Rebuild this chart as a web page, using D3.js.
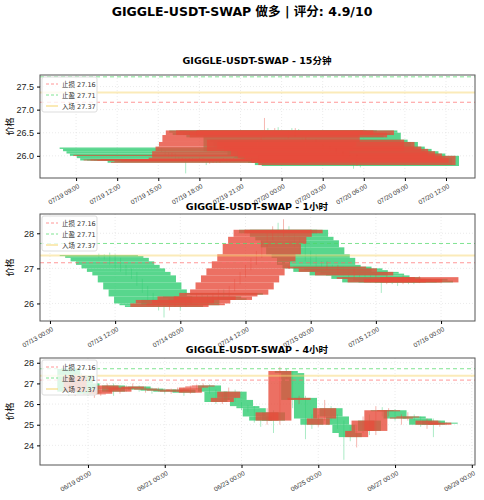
<!DOCTYPE html>
<html><head><meta charset="utf-8">
<script src="https://cdn.jsdelivr.net/npm/d3@7"></script>
<style>body{margin:0;background:#fff}svg{font-family:"DejaVu Sans","Noto Sans CJK SC",sans-serif}</style>
</head><body><svg id="c" width="484" height="500"></svg>
<script>
const mainTitle = "GIGGLE-USDT-SWAP 做多 | 评分: 4.9/10";
const levels = [{name:"止损", v:27.16, c:"#ff6b6b", dash:"4,3"},{name:"止盈", v:27.71, c:"#4cd964", dash:"4,3"},{name:"入场", v:27.37, c:"#f7d774", dash:null}];

// 15m: start 2025-07-19 15:00, step 15 min
const m15Open = [26.18,26.15,26.1,26.05,26.0,26.02,25.95,25.9,25.92,25.9,25.92,25.9,25.91,25.93,25.9,25.85,25.87,25.9,25.88,25.9,25.92,25.9,25.91,25.93,25.92,25.9,25.93,25.96,26.1,26.2,26.3,26.45,26.55,26.5,26.45,26.55,26.5,26.45,26.4,26.5,26.45,26.55,26.5,26.1,26.35,26.3,26.15,26.3,26.1,26.2,26.0,26.15,25.95,26.1,25.9,26.05,25.85,25.95,25.8,26.0];
const m15Close= [26.15,26.1,26.05,26.0,26.02,25.95,25.9,25.92,25.9,25.92,25.9,25.91,25.93,25.9,25.85,25.87,25.9,25.88,25.9,25.92,25.9,25.91,25.93,25.92,25.9,25.93,25.96,26.1,26.2,26.3,26.45,26.55,26.5,26.45,26.55,26.5,26.45,26.4,26.5,26.45,26.55,26.5,26.1,26.35,26.3,26.15,26.3,26.1,26.2,26.0,26.15,25.95,26.1,25.9,26.05,25.85,25.95,25.8,26.0,25.78];
const m15High = [26.2,26.17,26.12,26.08,26.07,26.05,25.98,25.96,25.95,25.95,25.95,25.94,25.96,25.95,25.93,25.9,25.93,25.92,25.93,25.95,25.94,25.94,25.96,25.96,25.95,25.96,26.0,26.14,26.24,26.34,26.48,26.82,26.6,26.52,26.6,26.62,26.55,26.5,26.55,26.6,26.6,26.58,26.55,26.4,26.4,26.35,26.35,26.35,26.25,26.25,26.2,26.18,26.15,26.15,26.1,26.08,26.0,25.98,26.03,26.02];
const m15Low  = [26.12,26.08,26.02,25.97,25.98,25.92,25.87,25.88,25.62,25.87,25.87,25.88,25.89,25.86,25.8,25.83,25.85,25.85,25.85,25.87,25.86,25.87,25.88,25.89,25.87,25.88,25.9,25.93,26.08,26.18,26.25,26.4,26.45,26.4,26.42,26.45,26.4,26.35,26.38,26.4,26.42,26.45,26.05,26.05,26.25,26.1,26.12,26.05,26.05,25.95,25.95,25.9,25.92,25.85,25.87,25.8,25.82,25.72,25.78,25.75];

// 1h: start 2025-07-13 09:00
const h1Open = [27.38,27.35,27.3,27.2,27.1,27.0,26.9,26.8,26.6,26.4,26.2,26.0,25.95,25.9,26.0,26.1,25.95,26.0,26.1,26.2,26.15,26.1,26.2,26.3,26.25,26.4,26.6,26.8,27.0,27.2,27.4,27.7,27.9,28.1,28.0,28.1,27.9,27.8,27.6,27.4,27.3,27.1,27.0,27.05,26.9,27.0,26.95,26.8,26.9,26.85,26.8,26.7,26.75,26.6,26.7,26.65,26.6,26.7,26.65,26.6];
const h1Close= [27.35,27.3,27.2,27.1,27.0,26.9,26.8,26.6,26.4,26.2,26.0,25.95,25.9,26.0,26.1,25.95,26.0,26.1,26.2,26.15,26.1,26.2,26.3,26.25,26.4,26.6,26.8,27.0,27.2,27.4,27.7,27.9,28.1,28.0,28.1,27.9,27.8,27.6,27.4,27.3,27.1,27.0,27.05,26.9,27.0,26.95,26.8,26.9,26.85,26.8,26.7,26.75,26.6,26.7,26.65,26.6,26.7,26.65,26.6,26.75];
const h1High = [27.42,27.4,27.45,27.4,27.3,27.1,27.0,26.9,26.7,26.5,26.3,26.1,26.0,26.1,26.2,26.15,26.1,26.2,26.3,26.3,26.25,26.3,26.4,26.4,26.5,26.7,26.9,27.1,27.3,27.5,27.8,28.0,28.2,28.3,28.4,28.2,28.0,27.9,27.7,27.5,27.4,27.2,27.2,27.1,27.1,27.05,27.0,27.0,26.95,26.9,26.85,26.85,26.75,26.8,26.75,26.75,26.8,26.75,26.7,26.78];
const h1Low  = [27.3,27.25,27.1,27.0,26.9,26.8,26.7,26.5,26.3,26.1,25.9,25.8,25.6,25.8,25.9,25.8,25.9,26.0,26.1,26.05,26.0,26.05,26.15,26.15,26.2,26.35,26.55,26.75,26.95,27.1,27.3,27.6,27.8,27.8,27.9,27.7,27.6,27.4,27.2,27.1,26.9,26.9,26.95,26.8,26.85,26.8,26.7,26.7,26.65,26.7,26.6,26.6,26.3,26.55,26.55,26.5,26.55,26.55,26.55,26.58];

// 4h: start 2025-06-18 12:00
const h4Open = [27.7,26.6,27.4,27.0,26.5,26.5,26.7,26.9,26.6,26.8,26.75,26.85,26.7,26.75,26.65,26.7,26.6,26.65,26.7,26.55,26.8,26.85,26.9,26.6,26.1,26.3,26.6,26.2,25.9,25.8,25.4,25.2,25.6,25.2,27.6,27.5,26.2,26.3,25.3,25.0,25.3,25.8,25.4,25.0,24.6,24.4,24.7,25.2,24.7,25.7,25.65,25.7,25.3,25.35,25.4,25.3,25.0,25.2,25.0,25.1];
const h4Close= [26.6,27.4,27.0,26.5,26.5,26.7,26.9,26.6,26.8,26.75,26.85,26.7,26.75,26.65,26.7,26.6,26.65,26.7,26.55,26.8,26.85,26.9,26.6,26.1,26.3,26.6,26.2,25.9,25.8,25.4,25.2,25.6,25.2,27.6,27.5,26.2,26.3,25.3,25.0,25.3,25.8,25.4,25.0,24.6,24.4,24.7,25.2,24.7,25.7,25.65,25.7,25.3,25.35,25.4,25.3,25.0,25.2,25.0,25.1,25.05];
const h4High = [27.8,27.5,27.5,27.1,26.7,26.8,27.0,27.0,26.9,26.9,27.0,26.9,26.85,26.8,26.8,26.75,26.75,26.8,26.8,26.9,26.95,27.0,26.95,26.7,26.5,26.8,26.7,26.1,25.95,25.9,25.5,25.8,25.7,27.8,27.7,27.6,26.4,26.4,25.5,25.5,26.2,25.9,25.5,25.2,24.9,25.0,25.4,25.5,25.9,25.85,25.8,25.75,25.5,25.6,25.5,25.4,25.3,25.3,25.2,25.12];
const h4Low  = [26.4,26.4,26.9,26.4,26.3,26.4,26.6,26.4,26.5,26.6,26.7,26.6,26.55,26.5,26.6,26.5,26.5,26.6,26.4,26.5,26.7,26.8,26.5,26.0,26.0,26.2,26.1,25.7,25.6,25.1,24.9,25.0,24.6,25.0,27.2,25.8,26.0,24.3,24.8,24.9,25.2,25.2,24.8,23.3,24.2,23.9,24.6,24.5,24.5,25.4,25.4,25.2,25.0,25.2,25.2,24.9,24.8,24.4,24.9,24.98];

const panels = [
 {title:"GIGGLE-USDT-SWAP - 15分钟", start:new Date(2025,6,19,15,0), stepMin:15, o:m15Open,c:m15Close,h:m15High,l:m15Low,
  top:75,bottom:178, y:[25.52,27.75], yt:[26.0,26.5,27.0,27.5], yfmt:d3.format(".1f"),
  x0:new Date(2025,6,19,6,22), x1:new Date(2025,6,20,14,7), ticks:d3.timeHour.every(3), tfmt:d3.timeFormat("%m/%d %H:%M"), ttl:64},
 {title:"GIGGLE-USDT-SWAP - 1小时", start:new Date(2025,6,13,9,0), stepMin:60, o:h1Open,c:h1Close,h:h1High,l:h1Low,
  top:214,bottom:321, y:[25.5,28.55], yt:[26,27,28], yfmt:d3.format("d"),
  x0:new Date(2025,6,12,22,10), x1:new Date(2025,6,16,6,15), ticks:d3.timeHour.every(12), tfmt:d3.timeFormat("%m/%d %H:%M"), ttl:210},
 {title:"GIGGLE-USDT-SWAP - 4小时", start:new Date(2025,5,18,12,0), stepMin:240, o:h4Open,c:h4Close,h:h4High,l:h4Low,
  top:358,bottom:465, y:[23.05,28.23], yt:[24,25,26,27,28], yfmt:d3.format("d"),
  x0:new Date(2025,5,17,18,0), x1:new Date(2025,5,29,2,0), ticks:d3.timeDay.every(2), tfmt:d3.timeFormat("%m/%d %H:%M"), ttl:353}
];
const svg = d3.select("#c");
svg.append("text").attr("x",242).attr("y",16).attr("text-anchor","middle").attr("font-weight","bold").attr("font-size",12.5).text(mainTitle);
const L=40,R=475;
panels.forEach(p=>{
  const g=svg.append("g");
  const x=d3.scaleTime().domain([p.x0,p.x1]).range([L,R]);
  const y=d3.scaleLinear().domain(p.y).range([p.bottom,p.top]);
  x.ticks(p.ticks).forEach(t=>g.append("line").attr("x1",x(t)).attr("x2",x(t)).attr("y1",p.top).attr("y2",p.bottom).attr("stroke","#ddd").attr("stroke-dasharray","1,2").attr("stroke-width",0.6));
  p.yt.forEach(t=>g.append("line").attr("x1",L).attr("x2",R).attr("y1",y(t)).attr("y2",y(t)).attr("stroke","#ddd").attr("stroke-dasharray","1,2").attr("stroke-width",0.6));
  const clip="clip"+p.stepMin;
  svg.append("clipPath").attr("id",clip).append("rect").attr("x",L).attr("y",p.top).attr("width",R-L).attr("height",p.bottom-p.top);
  const cg=g.append("g").attr("clip-path",`url(#${clip})`);
  const half=0.3*24*3600*1000;
  const candles=p.o.map((o,i)=>({t:new Date(p.start.getTime()+i*p.stepMin*60000),o,c:p.c[i],h:p.h[i],l:p.l[i]}));
  [false,true].forEach(upGroup=>{
    candles.filter(d=>(d.c>=d.o)===upGroup).forEach(d=>{
      const col=upGroup?"#e74c3c":"#2ecc71";
      cg.append("line").attr("x1",x(d.t)).attr("x2",x(d.t)).attr("y1",y(d.h)).attr("y2",y(d.l)).attr("stroke",col).attr("stroke-opacity",0.5).attr("stroke-width",0.8);
      const x0=x(new Date(d.t.getTime()-half)), x1=x(new Date(d.t.getTime()+half));
      cg.append("rect").attr("x",x0).attr("width",x1-x0).attr("y",y(Math.max(d.o,d.c))).attr("height",Math.max(0.6,Math.abs(y(d.o)-y(d.c)))).attr("fill",col).attr("fill-opacity",0.8);
    });
  });
  levels.forEach(lv=>{
    const ln=cg.append("line").attr("x1",L).attr("x2",R).attr("y1",y(lv.v)).attr("y2",y(lv.v)).attr("stroke",lv.c).attr("stroke-opacity",lv.dash?0.7:0.5).attr("stroke-width",lv.dash?1:2);
    if(lv.dash) ln.attr("stroke-dasharray",lv.dash);
  });
  g.append("rect").attr("x",L).attr("y",p.top).attr("width",R-L).attr("height",p.bottom-p.top).attr("fill","none").attr("stroke","#555").attr("stroke-width",1);
  const ya=g.append("g").attr("transform",`translate(${L},0)`).call(d3.axisLeft(y).tickValues(p.yt).tickFormat(p.yfmt).tickSize(3));
  ya.select(".domain").remove(); ya.selectAll("text").attr("font-size",9).attr("fill","#222");
  const xa=g.append("g").attr("transform",`translate(0,${p.bottom})`).call(d3.axisBottom(x).ticks(p.ticks).tickFormat(p.tfmt).tickSize(3));
  xa.select(".domain").remove();
  xa.selectAll("text").attr("font-size",6.5).attr("fill","#333").attr("text-anchor","end").attr("dx","-0.3em").attr("dy","0.6em").attr("transform","rotate(-30)");
  g.append("text").attr("transform",`translate(13,${(p.top+p.bottom)/2}) rotate(-90)`).attr("text-anchor","middle").attr("font-size",9).text("价格");
  svg.append("text").attr("x",257).attr("y",p.ttl).attr("text-anchor","middle").attr("font-weight","bold").attr("font-size",9.5).text(p.title);
  const lg=g.append("g").attr("transform",`translate(${L+2},${p.top+2})`);
  lg.append("rect").attr("width",55).attr("height",35).attr("rx",2).attr("fill","#fff").attr("fill-opacity",0.8).attr("stroke","#ddd");
  levels.forEach((lv,k)=>{
    const yy=7+k*11;
    const ln=lg.append("line").attr("x1",4).attr("x2",16).attr("y1",yy).attr("y2",yy).attr("stroke",lv.c).attr("stroke-opacity",0.7).attr("stroke-width",lv.dash?1:1.5);
    if(lv.dash) ln.attr("stroke-dasharray","3,2");
    lg.append("text").attr("x",20).attr("y",yy+2.5).attr("font-size",6.5).attr("fill","#333").text(`${lv.name} ${lv.v}`);
  });
});
</script></body></html>
